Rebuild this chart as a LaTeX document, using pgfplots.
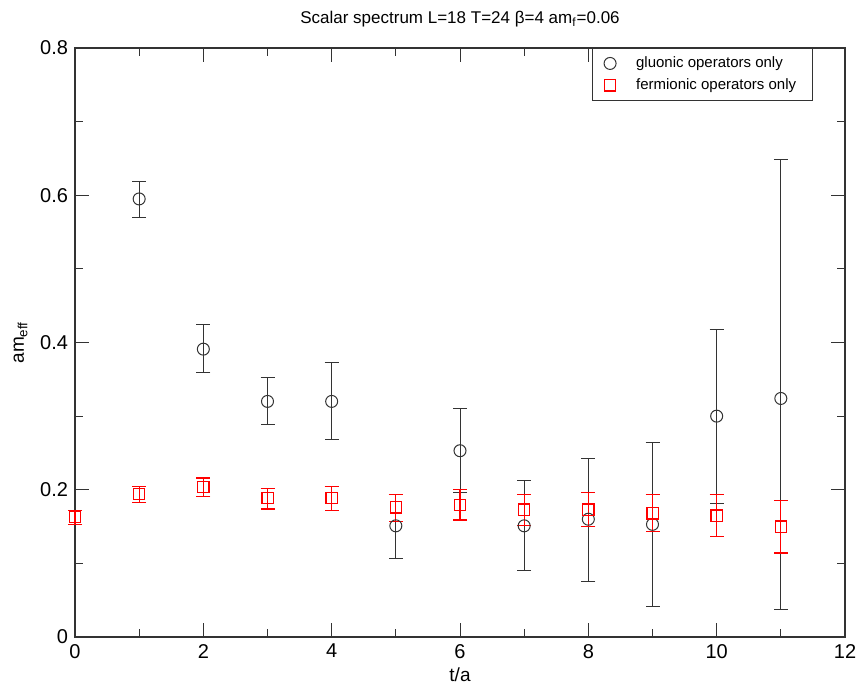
\documentclass[border=0pt]{standalone}
\usepackage{fontspec}
\setmainfont{Liberation Sans}
\usepackage{pgfplots}
\pgfplotsset{compat=1.18}
\usepackage{pgfplotstable}

\pgfplotstableread{
x y ep em
1 0.595 0.024 0.025
2 0.391 0.033 0.032
3 0.320 0.032 0.032
4 0.320 0.053 0.052
5 0.151 0.043 0.045
6 0.253 0.058 0.057
7 0.151 0.061 0.061
8 0.160 0.083 0.084
9 0.153 0.111 0.111
10 0.300 0.118 0.118
11 0.324 0.324 0.287
}\gluonic

\pgfplotstableread{
x y ep em
0 0.163 0.009 0.010
1 0.194 0.010 0.011
2 0.204 0.012 0.013
3 0.189 0.013 0.015
4 0.189 0.015 0.017
5 0.176 0.018 0.019
6 0.179 0.021 0.020
7 0.173 0.021 0.022
8 0.173 0.023 0.023
9 0.168 0.026 0.025
10 0.165 0.029 0.029
11 0.150 0.035 0.036
}\fermionic

\definecolor{axgray}{gray}{0.2}
\definecolor{myred}{rgb}{1,0,0}

\begin{document}
\begin{tikzpicture}[x=1pt,y=1pt]
\begin{axis}[
  scale only axis,
  width=385pt, height=294.5pt,
  xmin=0, xmax=12, ymin=0, ymax=0.8,
  xtick={0,2,...,12}, minor xtick={1,3,...,11},
  ytick={0,0.2,...,0.8}, minor ytick={0.1,0.3,0.5,0.7},
  tick align=inside,
  major tick length=7pt, minor tick length=4pt,
  tick style={axgray, line width=0.5pt},
  axis line style={axgray, line width=1pt},
  /pgf/number format/assume math mode=true,
  /pgf/number format/fixed,
  yticklabel style={font=\fontsize{10}{12}\selectfont},
  xticklabel style={font=\fontsize{10}{12}\selectfont},
  yticklabel={\pgfmathprintnumber[fixed,precision=1]{\tick}},
  title={Scalar spectrum L=18 T=24 β=4 am\textsubscript{f}=0.06},
  title style={font=\fontsize{8.5}{10}\selectfont, yshift=1pt},
  xlabel={t/a},
  xlabel style={font=\fontsize{9.5}{11}\selectfont, yshift=2pt},
  ylabel={am\textsubscript{eff}},
  ylabel style={font=\fontsize{9.5}{11}\selectfont, yshift=-0.5pt},
  clip=false,
  legend style={at={(rel axis cs:0.958,1)}, anchor=north east,
    font=\fontsize{7.5}{8}\selectfont, draw=axgray, line width=0.5pt,
    row sep=0pt, inner xsep=6pt, inner ysep=2pt},
  legend cell align=left,
  legend image code/.code={\draw[#1] plot coordinates {(0.3cm,0cm)};},
]
\addplot[only marks, mark=o, mark size=3pt, draw=axgray,
  mark options={draw=axgray, fill=none, line width=0.5pt},
  error bars/.cd, y dir=both, y explicit,
  error bar style={line width=0.5pt, draw=axgray},
  error mark options={rotate=90, mark size=3.5pt, line width=0.5pt, draw=axgray}]
  table[x=x, y=y, y error plus=ep, y error minus=em]{\gluonic};
\addlegendentry{\hspace{8pt}gluonic operators only}
\addplot[only marks, mark=square, mark size=2.8pt, draw=myred,
  mark options={draw=myred, fill=none, line width=0.6pt},
  error bars/.cd, y dir=both, y explicit,
  error bar style={line width=0.6pt, draw=myred},
  error mark options={rotate=90, mark size=3.5pt, line width=0.6pt, draw=myred}]
  table[x=x, y=y, y error plus=ep, y error minus=em]{\fermionic};
\addlegendentry{\hspace{8pt}fermionic operators only}
\end{axis}
\pgfresetboundingbox
\path[use as bounding box] (-37.5pt,-25pt) rectangle (390.5pt,318.5pt);
\end{tikzpicture}
\end{document}
